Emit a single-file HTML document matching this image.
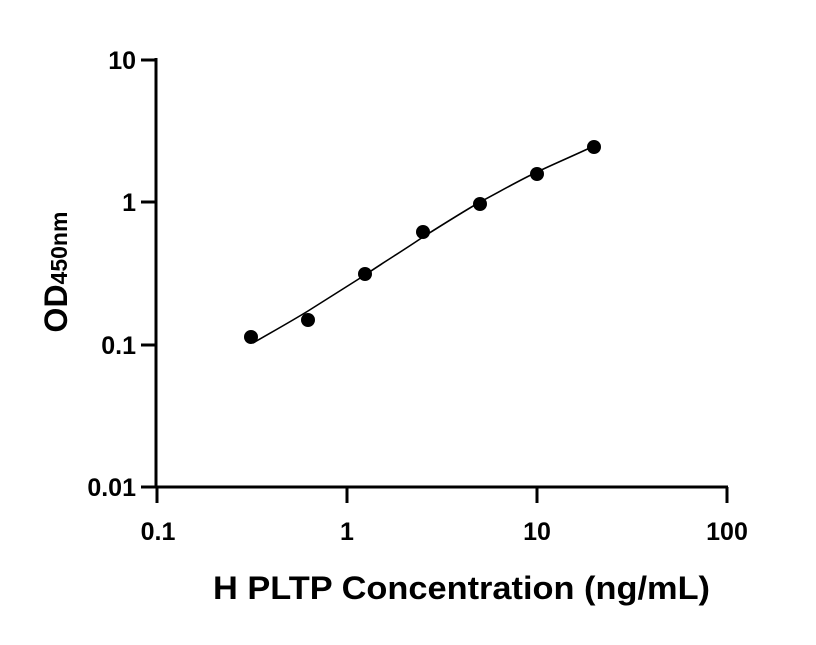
<!DOCTYPE html>
<html><head><meta charset="utf-8"><style>body{margin:0;background:#fff}</style></head><body>
<svg width="816" height="640" xmlns="http://www.w3.org/2000/svg" font-family="Liberation Sans, sans-serif" font-weight="bold">
<g stroke="#000" stroke-width="3" fill="none">
<path d="M156,58 V487 H728"/>
<path d="M141,60 H156 M141,202 H156 M141,345 H156 M141,487 H156"/>
<path d="M157,487 V503 M347,487 V503 M537,487 V503 M727,487 V503"/>
</g>
<path d="M253,343 C272,332 290,322 308,311 C327,299 346,287 365,275 C384,262 404,250 423,237 C442,225 461,213 480,202 C499,192 518,181 537,172 C556,163 575,155 594,146" stroke="#000" stroke-width="1.6" fill="none"/>
<g fill="#000">
<circle cx="251" cy="337" r="7"/><circle cx="308" cy="320" r="7"/><circle cx="365" cy="274" r="7"/>
<circle cx="423" cy="232" r="7"/><circle cx="480" cy="204" r="7"/><circle cx="537" cy="174" r="7"/>
<circle cx="594" cy="147" r="7"/>
</g>
<g font-size="25" text-anchor="end">
<text x="136" y="69">10</text><text x="136" y="211">1</text><text x="136" y="354">0.1</text><text x="136" y="496">0.01</text>
</g>
<g font-size="25" text-anchor="middle">
<text x="158" y="540">0.1</text><text x="347" y="540">1</text><text x="537" y="540">10</text><text x="727" y="540">100</text>
</g>
<text x="213" y="599" font-size="32" textLength="497" lengthAdjust="spacingAndGlyphs">H PLTP Concentration (ng/mL)</text>
<text transform="translate(67,272) rotate(-90)" font-size="32" text-anchor="middle">OD<tspan font-size="23">450nm</tspan></text>
</svg>
</body></html>
